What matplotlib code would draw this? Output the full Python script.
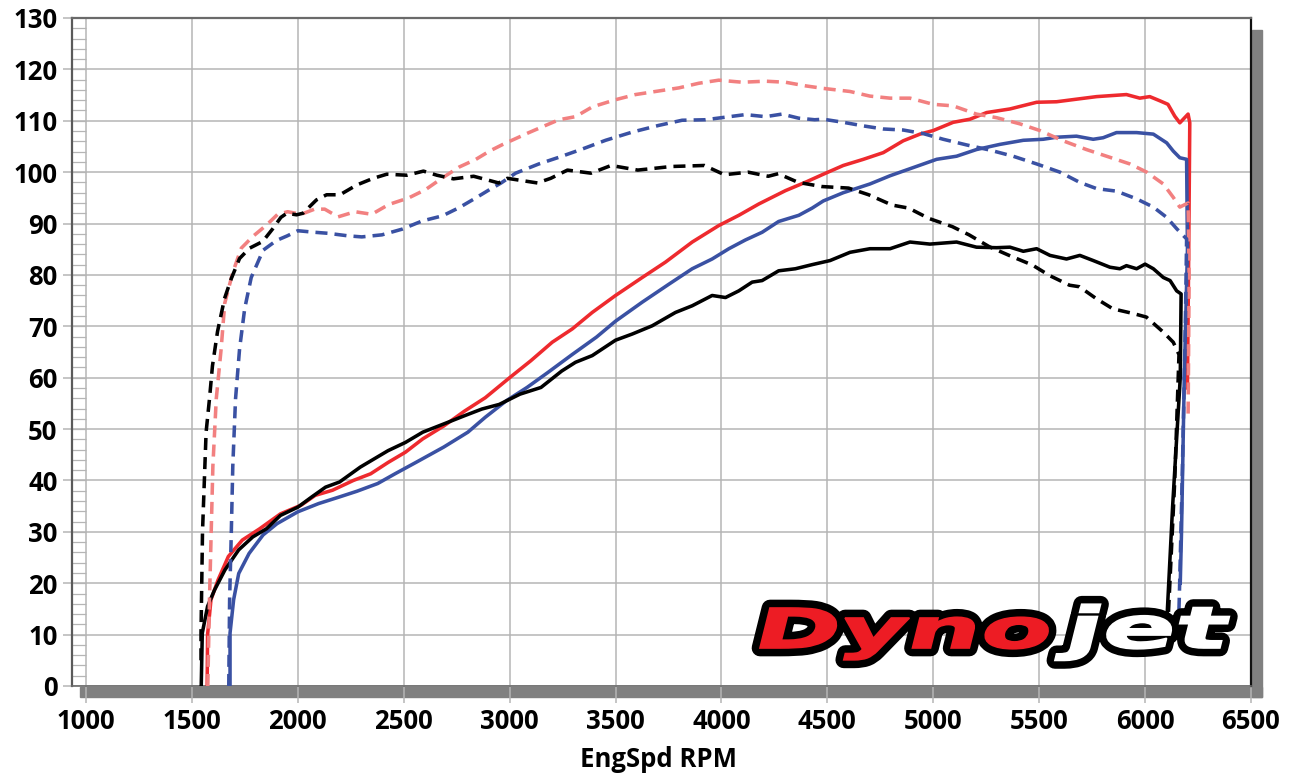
import numpy as np
import matplotlib
matplotlib.use("Agg")
import matplotlib.pyplot as plt
from matplotlib.textpath import TextPath
from matplotlib.patches import PathPatch, Rectangle
from matplotlib.font_manager import FontProperties
from matplotlib.transforms import Affine2D

# ---------------- data ----------------
x_ticks = [1000, 1500, 2000, 2500, 3000, 3500, 4000, 4500, 5000, 5500, 6000, 6500]
y_ticks = [0, 10, 20, 30, 40, 50, 60, 70, 80, 90, 100, 110, 120, 130]
x_label = "EngSpd RPM"

# Run 1 (red) – power (solid) and torque (dashed)
run1_hp_rpm = [1572, 1574, 1590, 1623, 1672, 1738, 1820, 1918, 2016, 2082, 2164, 2262, 2344, 2426,
               2508, 2590, 2689, 2787, 2885, 3000, 3100, 3201, 3296, 3390, 3500, 3626, 3736, 3862,
               3987, 4082, 4176, 4302, 4400, 4481, 4575, 4670, 4764, 4858, 4937, 5000, 5094, 5173,
               5252, 5362, 5488, 5582, 5676, 5771, 5912, 5975, 6022, 6069, 6108, 6140, 6164, 6203,
               6211, 6206, 6200]
run1_hp = [0, 10, 16.8, 20.6, 25.2, 28.4, 30.6, 33.5, 35.2, 37.1, 38.1, 40.0, 41.3, 43.5,
           45.5, 48.1, 50.6, 53.5, 56.1, 60.0, 63.3, 66.9, 69.5, 72.7, 76.0, 79.5, 82.5, 86.4,
           89.6, 91.6, 93.8, 96.4, 98.1, 99.6, 101.3, 102.5, 103.8, 106.1, 107.4, 108.1, 109.7, 110.3,
           111.6, 112.3, 113.6, 113.7, 114.2, 114.7, 115.1, 114.4, 114.7, 113.9, 113.2, 110.9, 109.6, 111.3,
           109.6, 85, 58]
run1_tq_rpm = [1575, 1583, 1591, 1599, 1615, 1638, 1655, 1693, 1733, 1788, 1852, 1905, 1952, 2016,
               2079, 2127, 2190, 2270, 2349, 2429, 2524, 2603, 2683, 2762, 2841, 2905, 2968, 3091,
               3170, 3233, 3311, 3390, 3500, 3594, 3704, 3799, 3893, 3987, 4098, 4208, 4302, 4396,
               4481, 4607, 4701, 4796, 4890, 5000, 5094, 5204, 5299, 5409, 5503, 5613, 5723, 5833,
               5928, 6008, 6086, 6133, 6164, 6203, 6208, 6203]
run1_tq = [0, 16.8, 29.9, 42.8, 55.9, 65.6, 74.5, 80.5, 85.2, 87.5, 89.7, 91.8, 92.3, 91.8,
           92.8, 92.8, 91.3, 92.3, 91.8, 93.7, 95.0, 96.6, 98.9, 101.0, 102.5, 104.1, 105.4, 107.7,
           109.1, 110.2, 110.8, 112.7, 114.1, 115.1, 115.8, 116.4, 117.3, 117.9, 117.5, 117.7, 117.5, 116.8,
           116.3, 115.7, 114.8, 114.4, 114.4, 113.2, 112.9, 111.3, 110.6, 109.4, 108.1, 106.1, 104.4, 102.9,
           101.6, 100.0, 97.7, 95.1, 93.2, 94.0, 80, 52]

# Run 2 (blue)
run2_hp_rpm = [1680, 1680, 1697, 1721, 1770, 1836, 1902, 2000, 2098, 2197, 2279, 2377, 2459, 2557,
               2689, 2803, 2885, 2984, 3082, 3180, 3295, 3410, 3500, 3626, 3752, 3862, 3956, 4035,
               4113, 4192, 4270, 4365, 4428, 4481, 4575, 4701, 4796, 4906, 5016, 5110, 5204, 5314,
               5425, 5519, 5582, 5676, 5755, 5802, 5865, 5960, 6039, 6102, 6133, 6164, 6196, 6200,
               6185, 6172, 6166]
run2_hp = [0, 10.3, 16.8, 21.9, 25.8, 29.4, 31.6, 33.9, 35.5, 36.8, 37.9, 39.4, 41.3, 43.5,
           46.5, 49.4, 52.3, 55.5, 58.1, 61.0, 64.5, 67.9, 71.0, 74.7, 78.2, 81.2, 83.1, 85.1,
           86.8, 88.3, 90.4, 91.6, 93.0, 94.4, 96.0, 97.7, 99.3, 100.9, 102.5, 103.1, 104.4, 105.4,
           106.2, 106.4, 106.8, 107.0, 106.4, 106.7, 107.7, 107.7, 107.4, 105.7, 104.1, 102.8, 102.5, 85,
           60, 30, 20]
run2_tq_rpm = [1674, 1678, 1686, 1693, 1706, 1725, 1749, 1780, 1836, 1899, 1950, 2000, 2079, 2143,
               2238, 2302, 2397, 2492, 2587, 2683, 2762, 2841, 2905, 2960, 3028, 3138, 3233, 3343,
               3453, 3579, 3704, 3814, 3925, 4019, 4113, 4208, 4286, 4365, 4440, 4481, 4575, 4670,
               4764, 4858, 4953, 5047, 5157, 5267, 5377, 5488, 5598, 5692, 5771, 5865, 5960, 6039,
               6102, 6149, 6196, 6190, 6175, 6162, 6158]
run2_tq = [0, 16.8, 29.9, 42.8, 55.9, 65.6, 73.4, 79.5, 84.8, 86.7, 87.6, 88.6, 88.3, 88.1,
           87.6, 87.4, 87.8, 88.9, 90.5, 91.5, 93.1, 95.0, 96.6, 97.9, 99.8, 101.6, 102.9, 104.5,
           106.2, 107.8, 109.1, 110.1, 110.2, 110.7, 111.2, 110.8, 111.3, 110.5, 110.2, 110.3, 109.7, 109.0,
           108.4, 108.2, 107.5, 106.4, 105.3, 104.3, 103.1, 101.6, 100.0, 98.0, 96.8, 96.3, 94.8, 93.2,
           91.2, 89.0, 87.0, 70, 40, 18, 12]

# Run 3 (black)
run3_hp_rpm = [1544, 1549, 1574, 1607, 1656, 1721, 1787, 1852, 1918, 2000, 2066, 2131, 2197, 2295,
               2426, 2508, 2590, 2689, 2787, 2869, 2951, 3049, 3148, 3246, 3311, 3390, 3500, 3579,
               3673, 3783, 3862, 3956, 4019, 4082, 4145, 4192, 4270, 4349, 4428, 4513, 4607, 4701,
               4796, 4890, 4984, 5110, 5204, 5299, 5362, 5425, 5488, 5551, 5629, 5692, 5755, 5834,
               5881, 5912, 5960, 6000, 6039, 6086, 6118, 6149, 6170, 6166, 6130, 6103]
run3_hp = [0, 10.3, 15.5, 18.7, 22.6, 26.5, 29.0, 30.6, 33.2, 34.8, 36.8, 38.7, 39.7, 42.6,
           45.8, 47.4, 49.4, 51.0, 52.6, 53.9, 54.8, 56.8, 58.1, 61.3, 63.0, 64.3, 67.3, 68.5,
           70.1, 72.7, 74.0, 76.0, 75.6, 76.9, 78.6, 78.9, 80.8, 81.2, 82.0, 82.8, 84.4, 85.1,
           85.1, 86.4, 86.0, 86.4, 85.4, 85.3, 85.4, 84.6, 85.1, 83.8, 83.1, 83.8, 82.8, 81.5,
           81.2, 81.8, 81.2, 82.1, 81.2, 79.5, 78.9, 76.9, 76.3, 60, 35, 13]
run3_tq_rpm = [1543, 1543, 1550, 1567, 1583, 1597, 1621, 1654, 1686, 1725, 1772, 1834, 1882, 1920,
               1948, 1994, 2024, 2088, 2136, 2199, 2278, 2356, 2420, 2515, 2593, 2657, 2735, 2830,
               2894, 2948, 2989, 3131, 3194, 3273, 3384, 3479, 3605, 3763, 3919, 4014, 4126, 4221,
               4268, 4363, 4474, 4600, 4695, 4805, 4884, 4979, 5090, 5169, 5264, 5358, 5469, 5548,
               5643, 5690, 5769, 5848, 5943, 6006, 6085, 6133, 6160, 6140, 6110]
run3_tq = [5, 10.3, 30, 49.4, 55.9, 62.3, 69.0, 75.4, 79.3, 83.2, 85.2, 86.5, 89.0, 91.2,
           92.0, 91.7, 92.0, 94.6, 95.6, 95.6, 97.5, 98.8, 99.6, 99.4, 100.2, 99.4, 98.7, 99.2,
           98.5, 97.9, 98.8, 97.9, 98.8, 100.4, 99.8, 101.3, 100.4, 101.1, 101.3, 99.5, 100.0, 99.2,
           99.7, 98.0, 97.2, 96.9, 95.6, 93.6, 93.0, 91.0, 89.4, 87.8, 85.5, 83.8, 81.9, 79.9,
           78.0, 77.7, 75.4, 73.4, 72.5, 71.8, 68.9, 66.9, 64.5, 40, 14]

RED = "#ee2a2e"
PINK = "#f28080"
BLUE = "#3a51a3"
BLACK = "#000000"

# ---------------- figure ----------------
W, H = 1297, 776
fig = plt.figure(figsize=(W / 100, H / 100), dpi=100)
plt.rcParams["font.family"] = ["Open Sans", "DejaVu Sans"]


def fx(px):
    return px / W


def fy(py):
    return 1 - py / H


GRID = "#b5b5b5"
ax = fig.add_axes([fx(72), fy(686), fx(1251) - fx(72), fy(18) - fy(686)])
X0 = 1000 - (86 - 72) * 5500 / (1251 - 86)
ax.set_xlim(X0, 6500)
ax.set_ylim(0, 130)

ax.set_xticks(x_ticks)
ax.set_xticklabels([str(v) for v in x_ticks], fontsize=18.5, fontweight="bold")
ax.set_yticks(y_ticks)
ax.set_yticklabels([str(v) for v in y_ticks], fontsize=18.5, fontweight="bold")
ax.tick_params(axis="x", direction="out", length=12.5, width=1.1, color=GRID, pad=3)
ax.tick_params(axis="y", direction="out", length=6.5, width=1.1, color=GRID, pad=4)
ax.grid(True, color=GRID, lw=1.1, zorder=0)
ax.set_axisbelow(True)

# minor tick strip on the left
ax.hlines(np.arange(2, 130, 2), X0, 1000, color=GRID, lw=0.9, zorder=0.5)

for side, col, lw in [("left", "#5a5a5a", 1.6), ("top", "#6a6a6a", 1.6),
                      ("right", "#111111", 1.6), ("bottom", "#6a6a6a", 1.2)]:
    ax.spines[side].set_color(col)
    ax.spines[side].set_linewidth(lw)

LW = 2.55
DASH = (3.4, 2.0)
ax.plot(run1_hp_rpm, run1_hp, color=RED, lw=LW, zorder=3, solid_joinstyle="round")
ax.plot(run2_hp_rpm, run2_hp, color=BLUE, lw=LW, zorder=3, solid_joinstyle="round")
ax.plot(run3_hp_rpm, run3_hp, color=BLACK, lw=LW, zorder=3, solid_joinstyle="round")
ax.plot(run1_tq_rpm, run1_tq, color=PINK, lw=LW, dashes=DASH, zorder=4)
ax.plot(run2_tq_rpm, run2_tq, color=BLUE, lw=LW, dashes=DASH, zorder=4)
ax.plot(run3_tq_rpm, run3_tq, color=BLACK, lw=LW, dashes=DASH, zorder=4)

ax.set_xlabel(x_label, fontsize=18.5, fontweight="bold")
ax.xaxis.set_label_coords((658 - 72) / (1251 - 72), (686 - 746) / (686 - 18))

# drop shadow
fig.add_artist(Rectangle((fx(1252), fy(697)), 10 / W, (697 - 30) / H,
                         transform=fig.transFigure, color="#808080", zorder=-1))
fig.add_artist(Rectangle((fx(80), fy(697)), (1262 - 80) / W, 10 / H,
                         transform=fig.transFigure, color="#808080", zorder=-1))

# ---------------- Dynojet logo ----------------
lax = fig.add_axes([0, 0, 1, 1], zorder=5)
lax.set_xlim(0, W)
lax.set_ylim(0, H)
lax.axis("off")

fp = FontProperties(family="DejaVu Sans", weight="bold")
capH = TextPath((0, 0), "D", size=100, prop=fp).get_extents().y1


def logo_word(s, left, right, base_py, cap_px):
    p = TextPath((0, 0), s, size=100, prop=fp)
    bb = p.get_extents()
    sy = cap_px / capH
    slant = np.tan(np.radians(14)) * cap_px
    sx = (right - left - slant) / bb.width
    tr = (Affine2D().translate(-bb.x0, 0).scale(sx, sy).skew_deg(14, 0)
          .translate(left, H - base_py))
    return tr.transform_path(p)


p_dyno = logo_word("Dyno", 760, 1054, 648, 40)
p_jet = logo_word("jet", 1058, 1232, 648, 42)
for p in (p_dyno, p_jet):
    lax.add_patch(PathPatch(p, fc="black", ec="black", lw=12, joinstyle="round"))
lax.add_patch(PathPatch(p_dyno, fc="#ed1c24", ec="#ed1c24", lw=1.2))
lax.add_patch(PathPatch(p_jet, fc="white", ec="white", lw=1.2))

fig.savefig("out.png", dpi=100)
